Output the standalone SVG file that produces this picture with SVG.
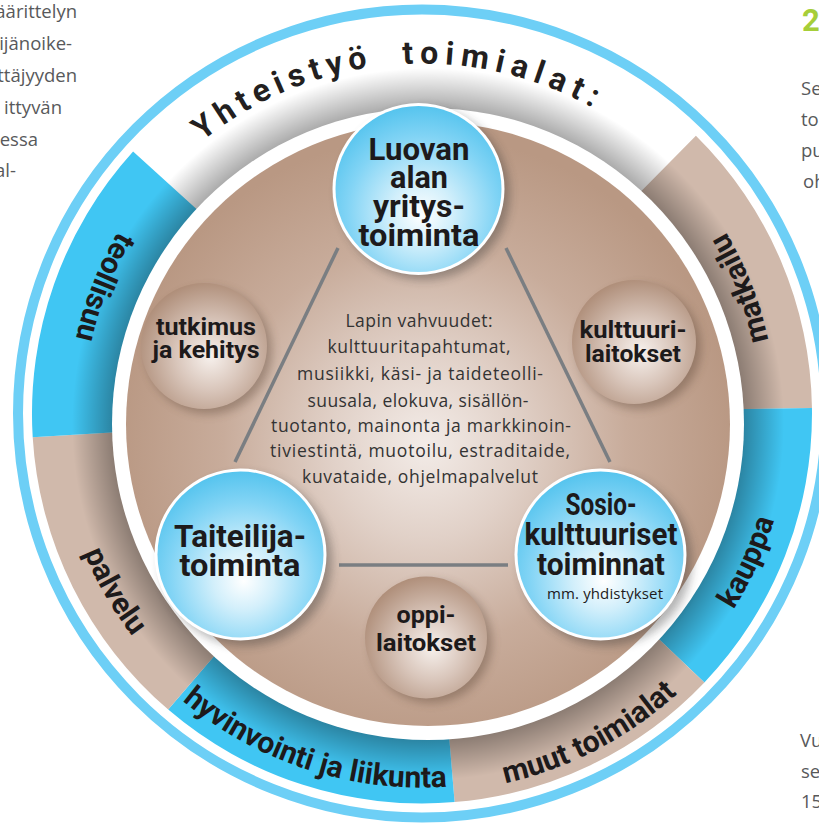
<svg xmlns="http://www.w3.org/2000/svg" width="819" height="830" viewBox="0 0 819 830">
<style>
.page{font-family:"Open Sans","Noto Sans",sans-serif;font-size:18.5px;fill:#58595b}
.title{font-family:Roboto,"DejaVu Sans",sans-serif;font-weight:700;font-size:32px;fill:#231f20}
.seg{font-family:Roboto,"DejaVu Sans",sans-serif;font-weight:700;font-size:30px;fill:#1d1a1b}
.big{font-family:Roboto,"DejaVu Sans",sans-serif;font-weight:700;font-size:32px;fill:#1d1a1b;text-anchor:middle}
.mid{font-family:Roboto,"DejaVu Sans",sans-serif;font-weight:700;font-size:24px;fill:#1d1a1b;text-anchor:middle}
.body{font-family:"Open Sans","Noto Sans",sans-serif;font-size:17.5px;fill:#333;text-anchor:middle}
.small{font-family:"Open Sans","Noto Sans",sans-serif;font-size:15px;fill:#1d1a1b;text-anchor:middle}
.blueseg{fill:#40c6f3}
.brownseg{fill:#d0b9ab}
.line{stroke:#7a7e82;stroke-width:3.5;fill:none}
</style>
<defs>
<radialGradient id="gBlue" cx="0.52" cy="0.62" r="0.62" fx="0.52" fy="0.66">
<stop offset="0" stop-color="#ffffff"/>
<stop offset="0.3" stop-color="#d2effb"/>
<stop offset="0.72" stop-color="#82d4f5"/>
<stop offset="1" stop-color="#56c4ee"/>
</radialGradient>
<radialGradient id="gBrown" cx="0.55" cy="0.58" r="0.6">
<stop offset="0" stop-color="#f7f1ed"/>
<stop offset="0.45" stop-color="#d9c6bb"/>
<stop offset="1" stop-color="#ae8d78"/>
</radialGradient>
<radialGradient id="gDisc" gradientUnits="userSpaceOnUse" cx="425" cy="445" r="310">
<stop offset="0" stop-color="#f3ece8"/>
<stop offset="0.3" stop-color="#e1d1c8"/>
<stop offset="0.65" stop-color="#c8ac9b"/>
<stop offset="1" stop-color="#b99883"/>
</radialGradient>
<radialGradient id="gShade" gradientUnits="userSpaceOnUse" cx="428" cy="424" r="356">
<stop offset="0.88" stop-color="#000" stop-opacity="0.35"/>
<stop offset="1" stop-color="#000" stop-opacity="0"/>
</radialGradient>
<filter id="blur" x="-30%" y="-30%" width="160%" height="160%"><feGaussianBlur stdDeviation="5"/></filter>
<path id="tp" d="M153.9,188.5 A350,350 0 0 1 690.1,188.5"/>
<path id="pTeol" d="M253.6,102.1 A354,354 0 0 0 86.1,525.2"/>
<path id="pPalv" d="M62.1,350.0 A365.5,365.5 0 0 0 297.0,757.0"/>
<path id="pHyv" d="M104.8,611.7 A374,374 0 0 0 562.1,760.3"/>
<path id="pMuut" d="M340.0,783.5 A379,379 0 0 0 772.2,558.5"/>
<path id="pKaup" d="M580.4,745.7 A368,368 0 0 0 776.6,315.2"/>
<path id="pMatk" d="M757.5,526.4 A354,354 0 0 0 591.5,102.7"/>
</defs>
<rect width="819" height="830" fill="#fff"/>

<g id="page-text">
<text class="page" x="77" y="18" text-anchor="end">äärittelyn</text>
<text class="page" x="72" y="50" text-anchor="end">kijänoike-</text>
<text class="page" x="77" y="82" text-anchor="end">ttäjyyden</text>
<text class="page" x="62" y="114" text-anchor="end">ittyvän</text>
<text class="page" x="38" y="146" text-anchor="end">essa</text>
<text class="page" x="16" y="177" text-anchor="end">al-</text>
<text x="802" y="31" style="font-family:Roboto,sans-serif;font-weight:700;font-size:31px;fill:#a6ce39">2</text>
<text class="page" x="801" y="95">Se</text>
<text class="page" x="801" y="126">to</text>
<text class="page" x="801" y="157">pu</text>
<text class="page" x="803" y="188">oh</text>
<text class="page" x="800" y="747">Vu</text>
<text class="page" x="801" y="778">se</text>
<text class="page" x="801" y="808">15</text>
</g>

<g id="outer-ring">
<circle cx="422" cy="413.5" r="404" fill="none" stroke="#6dcff6" stroke-width="10"/>
</g>

<g id="seg-matkailu"><path class="brownseg" d="M695.9,135.8 A390,390 0 0 1 811.96,408.06 L712.0,409.45 A290,290 0 0 0 625.6,207.0 Z"/></g>
<g id="seg-kauppa"><path class="blueseg" d="M811.96,408.06 A390,390 0 0 1 704.4,682.4 L632.0,613.5 A290,290 0 0 0 712.0,409.45 Z"/></g>
<g id="seg-muut"><path class="brownseg" d="M704.4,682.4 A390,390 0 0 1 454.6,802.1 L446.3,702.5 A290,290 0 0 0 632.0,613.5 Z"/></g>
<g id="seg-hyvinvointi"><path class="blueseg" d="M454.6,802.1 A390,390 0 0 1 168.2,709.6 L233.3,633.7 A290,290 0 0 0 446.3,702.5 Z"/></g>
<g id="seg-palvelu"><path class="brownseg" d="M168.2,709.6 A390,390 0 0 1 32.7,437.3 L132.6,431.2 A290,290 0 0 0 233.3,633.7 Z"/></g>
<g id="seg-teollisuu"><path class="blueseg" d="M32.7,437.3 A390,390 0 0 1 133.1,151.5 L207.2,218.7 A290,290 0 0 0 132.6,431.2 Z"/></g>

<circle cx="428" cy="424" r="356" fill="url(#gShade)"/>

<g id="seg-labels">
<text class="seg"><textPath href="#pTeol" startOffset="50%" text-anchor="middle">teollisuu</textPath></text>
<text class="seg"><textPath href="#pPalv" startOffset="50%" text-anchor="middle">palvelu</textPath></text>
<text class="seg"><textPath href="#pHyv" startOffset="50%" text-anchor="middle">hyvinvointi ja liikunta</textPath></text>
<text class="seg"><textPath href="#pMuut" startOffset="50%" text-anchor="middle">muut toimialat</textPath></text>
<text class="seg"><textPath href="#pKaup" startOffset="50%" text-anchor="middle">kauppa</textPath></text>
<text class="seg"><textPath href="#pMatk" startOffset="50%" text-anchor="middle">matkailu</textPath></text>
</g>

<g id="title">
<text class="title"><textPath href="#tp" startOffset="68" textLength="183" lengthAdjust="spacing">Yhteistyö</textPath></text>
<text class="title"><textPath href="#tp" startOffset="286" textLength="197" lengthAdjust="spacing">toimialat:</textPath></text>
</g>

<g id="inner-disc">
<circle cx="428" cy="424" r="316" fill="#fff"/>
<circle cx="428" cy="424" r="302" fill="url(#gDisc)"/>
</g>

<g id="connectors">
<line class="line" x1="338" y1="248" x2="235" y2="462"/>
<line class="line" x1="506" y1="248" x2="610" y2="462"/>
<line class="line" x1="339" y1="565" x2="508" y2="565"/>
</g>

<g id="center-text">
<text class="body" x="419" y="327" textLength="147">Lapin vahvuudet:</text>
<text class="body" x="419" y="353" textLength="183">kulttuuritapahtumat,</text>
<text class="body" x="420" y="380" textLength="246">musiikki, käsi- ja taideteolli-</text>
<text class="body" x="418" y="406.5" textLength="221">suusala, elokuva, sisällön-</text>
<text class="body" x="421" y="432" textLength="300">tuotanto, mainonta ja markkinoin-</text>
<text class="body" x="420" y="457" textLength="300">tiviestintä, muotoilu, estraditaide,</text>
<text class="body" x="420" y="483" textLength="236">kuvataide, ohjelmapalvelut</text>
</g>

<g id="node-tutkimus">
<circle cx="209" cy="351" r="63" fill="#4a3426" opacity="0.35" filter="url(#blur)"/>
<circle cx="204" cy="346" r="63" fill="url(#gBrown)"/>
<text class="mid" x="206" y="335" textLength="100" lengthAdjust="spacingAndGlyphs">tutkimus</text>
<text class="mid" x="206" y="358" textLength="107" lengthAdjust="spacingAndGlyphs">ja kehitys</text>
</g>

<g id="node-kulttuurilaitokset">
<circle cx="639" cy="347" r="62" fill="#4a3426" opacity="0.35" filter="url(#blur)"/>
<circle cx="634" cy="342" r="62" fill="url(#gBrown)"/>
<text class="mid" x="633" y="338" textLength="107" lengthAdjust="spacingAndGlyphs">kulttuuri-</text>
<text class="mid" x="633" y="362" textLength="96" lengthAdjust="spacingAndGlyphs">laitokset</text>
</g>

<g id="node-oppilaitokset">
<circle cx="431" cy="642" r="61" fill="#4a3426" opacity="0.35" filter="url(#blur)"/>
<circle cx="426" cy="637.5" r="61" fill="url(#gBrown)"/>
<text class="mid" x="426" y="623" textLength="59" lengthAdjust="spacingAndGlyphs">oppi-</text>
<text class="mid" x="426" y="651" textLength="100" lengthAdjust="spacingAndGlyphs">laitokset</text>
</g>

<g id="node-luovan">
<circle cx="424" cy="194" r="86" fill="#2a2a2a" opacity="0.35" filter="url(#blur)"/>
<circle cx="418.5" cy="189" r="86" fill="#fff"/>
<circle cx="418.5" cy="189" r="83" fill="url(#gBlue)"/>
<text class="big" x="419" y="160" textLength="101" lengthAdjust="spacingAndGlyphs">Luovan</text>
<text class="big" x="419" y="188" textLength="58" lengthAdjust="spacingAndGlyphs">alan</text>
<text class="big" x="419" y="217" textLength="92" lengthAdjust="spacingAndGlyphs">yritys-</text>
<text class="big" x="419" y="246" textLength="121" lengthAdjust="spacingAndGlyphs">toiminta</text>
</g>

<g id="node-taiteilija">
<circle cx="246" cy="560" r="86" fill="#2a2a2a" opacity="0.35" filter="url(#blur)"/>
<circle cx="240.5" cy="554.5" r="86" fill="#fff"/>
<circle cx="240.5" cy="554.5" r="83" fill="url(#gBlue)"/>
<text class="big" x="240" y="547" textLength="132" lengthAdjust="spacingAndGlyphs">Taiteilija-</text>
<text class="big" x="240" y="576" textLength="121" lengthAdjust="spacingAndGlyphs">toiminta</text>
</g>

<g id="node-sosio">
<circle cx="606" cy="560" r="86" fill="#2a2a2a" opacity="0.35" filter="url(#blur)"/>
<circle cx="600.5" cy="554.5" r="86" fill="#fff"/>
<circle cx="600.5" cy="554.5" r="83" fill="url(#gBlue)"/>
<text class="big" x="601" y="515" textLength="71" lengthAdjust="spacingAndGlyphs">Sosio-</text>
<text class="big" x="601" y="545" textLength="153" lengthAdjust="spacingAndGlyphs">kulttuuriset</text>
<text class="big" x="601" y="575" textLength="128" lengthAdjust="spacingAndGlyphs">toiminnat</text>
<text class="small" x="605" y="599" textLength="116">mm. yhdistykset</text>
</g>
</svg>
